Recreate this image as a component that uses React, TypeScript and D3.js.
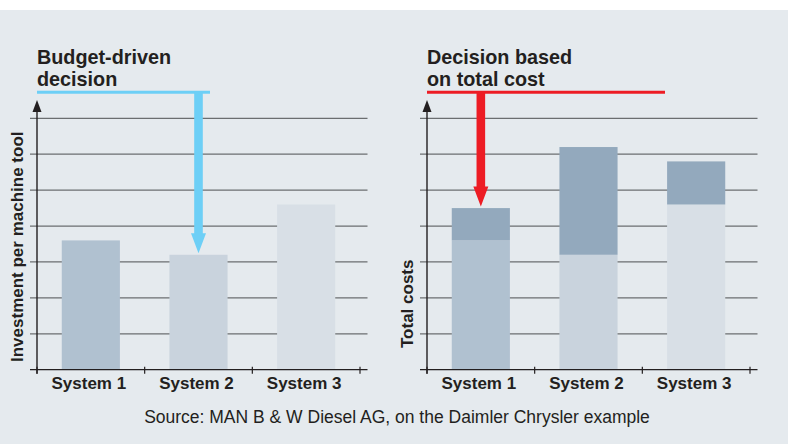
import React from "react";
import * as d3 from "d3";

const categories = ["System 1", "System 2", "System 3"];
const investment = [3.6, 3.2, 4.6];
const followUpCosts = [0.9, 3.0, 1.2];
const gridValues = [1, 2, 3, 4, 5, 6, 7];

const baseColors = ["#b0c1d0", "#c9d3dd", "#d8dfe6"];
const topColor = "#93a9bd";
const ink = "#231f20";
const font = "'Liberation Sans', Arial, Helvetica, sans-serif";

const W = 796;
const H = 444;

type PanelProps = {
  ox: number;
  stacked: boolean;
  title: string[];
  yLabel: string;
  yLabelStart: number;
  lineEnd: number;
  lineColor: string;
  targetIndex: number;
};

function Panel({ ox, stacked, title, yLabel, yLabelStart, lineEnd, lineColor, targetIndex }: PanelProps) {
  const y = d3.scaleLinear().domain([0, 7]).range([369.7, 118.3]);
  const x = d3.scaleBand<string>().domain(categories).range([ox + 37, ox + 360]).padding(0);
  const bw = x.bandwidth() * 0.54;
  const axisX = ox + 37;
  const gridL = axisX - 7;
  const gridR = ox + 367.5;

  const totals = categories.map((_, i) => investment[i] + (stacked ? followUpCosts[i] : 0));
  const tc = (x(categories[targetIndex]) as number) + x.bandwidth() / 2;
  const tipY = y(totals[targetIndex]) - 1.5;
  const lineY = 92.3;
  const headH = 20;
  const headW = 7.5;
  const shaftW = 4.3;
  const arrowPath = [
    [tc - shaftW, lineY],
    [tc + shaftW, lineY],
    [tc + shaftW, tipY - headH],
    [tc + headW, tipY - headH],
    [tc, tipY],
    [tc - headW, tipY - headH],
    [tc - shaftW, tipY - headH],
  ];
  const line = d3.line();

  return (
    <g>
      {/* gridlines */}
      {gridValues.map((v) => (
        <line key={v} x1={gridL} x2={gridR} y1={y(v)} y2={y(v)} stroke="#6b6e70" strokeWidth={1.2} />
      ))}
      {/* bars */}
      {categories.map((c, i) => {
        const cx = (x(c) as number) + x.bandwidth() / 2;
        return (
          <g key={c}>
            <rect x={cx - bw / 2} width={bw} y={y(investment[i])} height={y(0) - y(investment[i])} fill={baseColors[i]} />
            {stacked && (
              <rect
                x={cx - bw / 2}
                width={bw}
                y={y(investment[i] + followUpCosts[i])}
                height={y(investment[i]) - y(investment[i] + followUpCosts[i])}
                fill={topColor}
              />
            )}
          </g>
        );
      })}
      {/* baseline + ticks */}
      <line x1={gridL} x2={gridR} y1={y(0)} y2={y(0)} stroke={ink} strokeWidth={1.3} />
      {[...categories.map((c) => x(c) as number), x.range()[1]].map((tx, i) => (
        <line key={i} x1={tx} x2={tx} y1={y(0) - 3} y2={y(0) + 4} stroke={ink} strokeWidth={1.2} />
      ))}
      {/* y axis with arrow */}
      <line x1={axisX} x2={axisX} y1={110} y2={y(0) + 4} stroke={ink} strokeWidth={1.4} />
      <path d={`M${axisX},100 L${axisX + 4.5},112 L${axisX - 4.5},112 Z`} fill={ink} />
      {/* category labels */}
      {categories.map((c) => (
        <text
          key={c}
          x={(x(c) as number) + x.bandwidth() / 2 - 2}
          y={389.3}
          textAnchor="middle"
          fontFamily={font}
          fontWeight="bold"
          fontSize={17}
          fill={ink}
        >
          {c}
        </text>
      ))}
      {/* y label */}
      <text
        transform={`translate(${ox + 23},${yLabelStart}) rotate(-90)`}
        textAnchor="start"
        fontFamily={font}
        fontWeight="bold"
        fontSize={17}
        fill={ink}
      >
        {yLabel}
      </text>
      {/* title */}
      {title.map((t, i) => (
        <text key={i} x={ox + 37} y={64 + i * 22} fontFamily={font} fontWeight="bold" fontSize={19.8} fill={ink}>
          {t}
        </text>
      ))}
      {/* decision line and arrow */}
      <line x1={axisX} x2={lineEnd} y1={lineY} y2={lineY} stroke={lineColor} strokeWidth={3} />
      <path d={line(arrowPath as [number, number][]) + "Z"} fill={lineColor} />
    </g>
  );
}

export default function App() {
  return (
    <svg
      width={W}
      height={H}
      viewBox={`0 0 ${W} ${H}`}
      style={{ position: "absolute", left: 0, top: 0, background: "#ffffff" }}
    >
      <rect x={0} y={10} width={788} height={H - 10} fill="#e5eaee" />
      <Panel
        ox={0}
        stacked={false}
        title={["Budget-driven", "decision"]}
        yLabel="Investment per machine tool"
        yLabelStart={362}
        lineEnd={210}
        lineColor="#6dcff6"
        targetIndex={1}
      />
      <Panel
        ox={390}
        stacked={true}
        title={["Decision based", "on total cost"]}
        yLabel="Total costs"
        yLabelStart={348}
        lineEnd={665}
        lineColor="#ed1c24"
        targetIndex={0}
      />
      <text x={397} y={423.3} textAnchor="middle" fontFamily={font} fontSize={17.5} fill={ink}>
        Source: MAN B &amp; W Diesel AG, on the Daimler Chrysler example
      </text>
    </svg>
  );
}
